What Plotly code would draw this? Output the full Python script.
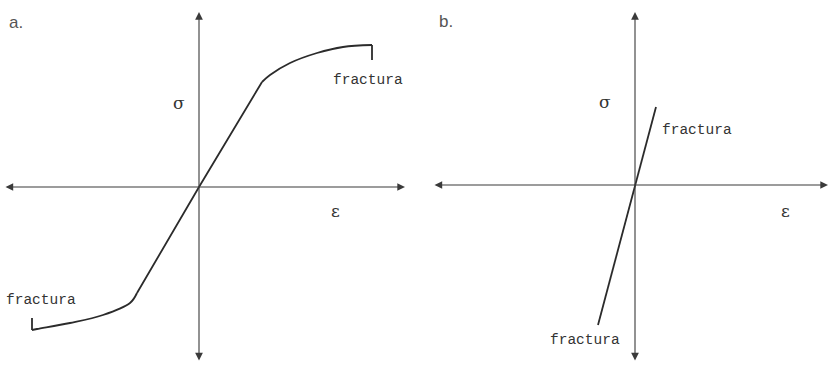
import plotly.graph_objects as go

# Ductile material (a): stress-strain curve, arbitrary units
elastic_strain = [-1.55, 0.0, 1.575]
elastic_stress = [-2.65, 0.0, 2.625]

plastic_up_strain = [1.575, 1.775, 2.275, 2.95, 3.6, 4.325]
plastic_up_stress = [2.625, 2.8, 3.1, 3.35, 3.5, 3.55]
fracture_up_strain = [4.325, 4.325]
fracture_up_stress = [3.55, 3.175]

plastic_down_strain = [-1.55, -1.725, -2.4, -3.225, -4.05, -4.175]
plastic_down_stress = [-2.65, -2.9, -3.2, -3.4, -3.55, -3.575]
fracture_down_strain = [-4.175, -4.175]
fracture_down_stress = [-3.575, -3.275]

# Brittle material (b): straight elastic line up to fracture
brittle_strain = [-0.925, 0.0, 0.525]
brittle_stress = [-3.5, 0.0, 1.95]

# Axis extents (arrow tips) for each panel
axis_a = {"x": (-4.875, 5.15), "y": (-4.375, 4.375)}
axis_b = {"x": (-5.05, 4.825), "y": (-4.425, 4.325)}

LINE = "#2b2b2b"
AXIS = "#3a3a3a"

fig = go.Figure()

def add_line(x, y, xa, ya, shape="linear"):
    fig.add_trace(go.Scatter(x=x, y=y, mode="lines", xaxis=xa, yaxis=ya,
                             line=dict(color=LINE, width=1.8, shape=shape, smoothing=1.0),
                             hoverinfo="skip", showlegend=False))

add_line(elastic_strain, elastic_stress, "x", "y")
add_line(plastic_up_strain, plastic_up_stress, "x", "y", "spline")
add_line(fracture_up_strain, fracture_up_stress, "x", "y")
add_line(plastic_down_strain, plastic_down_stress, "x", "y", "spline")
add_line(fracture_down_strain, fracture_down_stress, "x", "y")
add_line(brittle_strain, brittle_stress, "x2", "y2")

# Double-headed axis arrows
def add_axes(ext, xr, yr):
    x0, x1 = ext["x"]
    y0, y1 = ext["y"]
    for (tx, ty, sx, sy) in [(x1, 0, x0, 0), (0, y1, 0, y0)]:
        fig.add_annotation(x=tx, y=ty, ax=sx, ay=sy, xref=xr, yref=yr,
                           axref=xr, ayref=yr, showarrow=True, text="",
                           arrowhead=2, startarrowhead=2, arrowside="end+start",
                           arrowsize=1.4, startarrowsize=1.4, arrowwidth=1.1,
                           arrowcolor=AXIS)

add_axes(axis_a, "x", "y")
add_axes(axis_b, "x2", "y2")

mono = dict(family="Liberation Mono, Courier New, monospace", size=14.5, color="#333333")
symb = dict(family="DejaVu Serif, serif", size=17, color="#333333")

labels = [
    ("x", "y", 4.225, 2.675, "fractura", mono),
    ("x", "y", -3.95, -2.825, "fractura", mono),
    ("x", "y", -0.5, 2.1, "σ", symb),
    ("x", "y", 3.4, -0.6, "ε", symb),
    ("x2", "y2", 1.55, 1.375, "fractura", mono),
    ("x2", "y2", -1.25, -3.875, "fractura", mono),
    ("x2", "y2", -0.75, 2.075, "σ", symb),
    ("x2", "y2", 3.75, -0.65, "ε", symb),
]
for xr, yr, x, y, t, f in labels:
    fig.add_annotation(x=x, y=y, xref=xr, yref=yr, text=t, showarrow=False,
                       font=f, xanchor="center", yanchor="middle")

panel_font = dict(family="Liberation Sans, Arial, sans-serif", size=17, color="#555555")
fig.add_annotation(x=7 / 832, y=1 - 23 / 366, xref="paper", yref="paper", text="a.",
                   showarrow=False, font=panel_font, xanchor="left", yanchor="middle")
fig.add_annotation(x=437 / 832, y=1 - 22 / 366, xref="paper", yref="paper", text="b.",
                   showarrow=False, font=panel_font, xanchor="left", yanchor="middle")

hidden = dict(visible=False, showgrid=False, zeroline=False, fixedrange=True)
fig.update_layout(
    width=832, height=366,
    margin=dict(l=0, r=0, t=0, b=0),
    paper_bgcolor="white", plot_bgcolor="white",
    xaxis=dict(domain=[0, 0.5], range=[-4.975, 5.425], **hidden),
    yaxis=dict(domain=[0, 1], range=[-4.475, 4.675], **hidden),
    xaxis2=dict(domain=[0.5, 1], range=[-5.475, 4.925], **hidden),
    yaxis2=dict(domain=[0, 1], range=[-4.525, 4.625], anchor="x2", **hidden),
)

fig.write_html("out.html")
